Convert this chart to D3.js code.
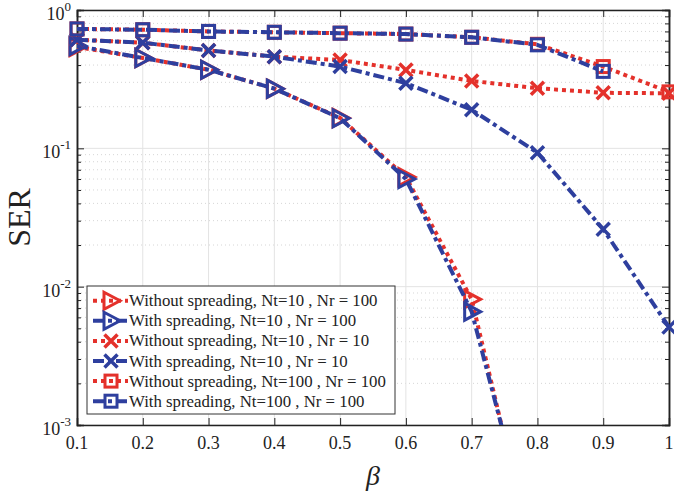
<!DOCTYPE html>
<html>
<head>
<meta charset="utf-8">
<script src="https://cdn.jsdelivr.net/npm/d3@7/dist/d3.min.js"></script>
<style>
  body { margin: 0; background: #fff; }
  svg { display: block; font-family: "Liberation Serif", "DejaVu Serif", serif; }
</style>
</head>
<body>
<script>
var width = 674, height = 495;
var margin = {top: 10, right: 5, bottom: 70, left: 77};

// beta values on the x axis
var beta = [0.1, 0.2, 0.3, 0.4, 0.5, 0.6, 0.7, 0.8, 0.9, 1.0];
var xTicks = [0.1, 0.2, 0.3, 0.4, 0.5, 0.6, 0.7, 0.8, 0.9, 1];
var yTicks = [1e-3, 1e-2, 1e-1, 1];
var yTickExp = ["-3", "-2", "-1", "0"];

// SER values per curve (last triangle points fall below 1e-3)
var woNt10Nr100 = [0.54, 0.45, 0.37, 0.27, 0.166, 0.062, 0.0081, 0.00008];
var wNt10Nr100  = [0.55, 0.45, 0.37, 0.27, 0.165, 0.060, 0.0066, 0.0001];
var woNt10Nr10  = [0.61, 0.58, 0.51, 0.46, 0.435, 0.369, 0.307, 0.272, 0.252, 0.25];
var wNt10Nr10   = [0.61, 0.58, 0.51, 0.46, 0.39, 0.296, 0.19, 0.093, 0.026, 0.0051];
var woNt100Nr100 = [0.73, 0.72, 0.70, 0.69, 0.68, 0.67, 0.635, 0.565, 0.39, 0.256];
var wNt100Nr100  = [0.73, 0.72, 0.70, 0.69, 0.68, 0.67, 0.635, 0.56, 0.36];

var labels = [
  "Without spreading, Nt=10 , Nr = 100",
  "With spreading, Nt=10 , Nr = 100",
  "Without spreading, Nt=10 , Nr = 10",
  "With spreading, Nt=10 , Nr = 10",
  "Without spreading, Nt=100 , Nr = 100",
  "With spreading, Nt=100 , Nr = 100"
];

var red = "#e4312b", blue = "#2e3f9e";
var series = [
  {name: labels[0], values: woNt10Nr100, color: red, dash: "4,4", marker: "tri"},
  {name: labels[1], values: wNt10Nr100, color: blue, dash: "11,4,4,4", marker: "tri"},
  {name: labels[2], values: woNt10Nr10, color: red, dash: "4,4", marker: "x"},
  {name: labels[3], values: wNt10Nr10, color: blue, dash: "11,4,4,4", marker: "x"},
  {name: labels[4], values: woNt100Nr100, color: red, dash: "4,4", marker: "sq"},
  {name: labels[5], values: wNt100Nr100, color: blue, dash: "11,4,4,4", marker: "sq"}
];

var svg = d3.select("body").append("svg")
  .attr("width", width)
  .attr("height", height);

var x = d3.scaleLinear().domain([0.1, 1]).range([margin.left, width - margin.right]);
var y = d3.scaleLog().domain([1e-3, 1]).range([height - margin.bottom, margin.top]);

var x0 = x.range()[0], x1 = x.range()[1], y0 = y.range()[0], y1 = y.range()[1];

svg.append("defs").append("clipPath").attr("id", "plotclip")
  .append("rect").attr("x", x0).attr("y", y1).attr("width", x1 - x0).attr("height", y0 - y1);

// minor log values
var minor = [];
[1e-3, 1e-2, 1e-1].forEach(function(d) {
  for (var k = 2; k <= 9; k++) minor.push(d * k);
});

var grid = svg.append("g");
grid.selectAll(".ymin").data(minor).enter().append("line")
  .attr("x1", x0).attr("x2", x1)
  .attr("y1", function(d) { return y(d); }).attr("y2", function(d) { return y(d); })
  .attr("stroke", "#d6d6d6").attr("stroke-width", 1).attr("stroke-dasharray", "1,3");
grid.selectAll(".ymaj").data(yTicks).enter().append("line")
  .attr("x1", x0).attr("x2", x1)
  .attr("y1", function(d) { return y(d); }).attr("y2", function(d) { return y(d); })
  .attr("stroke", "#e3e3e3").attr("stroke-width", 1);
grid.selectAll(".xmaj").data(xTicks).enter().append("line")
  .attr("y1", y0).attr("y2", y1)
  .attr("x1", function(d) { return x(d); }).attr("x2", function(d) { return x(d); })
  .attr("stroke", "#e3e3e3").attr("stroke-width", 1);

// axes (inward ticks on all four sides)
svg.append("g").attr("transform", "translate(0," + y0 + ")")
  .call(d3.axisBottom(x).tickValues(xTicks).tickSize(-7).tickFormat(""));
svg.append("g").attr("transform", "translate(0," + y1 + ")")
  .call(d3.axisTop(x).tickValues(xTicks).tickSize(-7).tickFormat(""));
svg.append("g").attr("transform", "translate(" + x0 + ",0)")
  .call(d3.axisLeft(y).tickValues(yTicks).tickSize(-7).tickFormat(""));
svg.append("g").attr("transform", "translate(" + x1 + ",0)")
  .call(d3.axisRight(y).tickValues(yTicks).tickSize(-7).tickFormat(""));
svg.append("g").attr("transform", "translate(" + x0 + ",0)")
  .call(d3.axisLeft(y).tickValues(minor).tickSize(-4).tickFormat(""));
svg.append("g").attr("transform", "translate(" + x1 + ",0)")
  .call(d3.axisRight(y).tickValues(minor).tickSize(-4).tickFormat(""));
svg.selectAll(".domain").attr("stroke", "#222").attr("stroke-width", 1.5);
svg.selectAll(".tick line").attr("stroke", "#222").attr("stroke-width", 1);

// tick labels
svg.append("g").selectAll("text").data(xTicks).enter().append("text")
  .attr("x", function(d) { return x(d); })
  .attr("y", y0 + 24)
  .attr("text-anchor", "middle")
  .attr("font-size", 18)
  .attr("fill", "#222")
  .text(function(d) { return d === 1 ? "1" : d3.format(".1f")(d); });

var yl = svg.append("g").selectAll("text").data(yTicks).enter().append("text")
  .attr("x", x0 - 6)
  .attr("y", function(d) { return y(d) + 10; })
  .attr("text-anchor", "end")
  .attr("fill", "#222")
  .attr("font-size", 18);
yl.append("tspan").text("10");
yl.append("tspan").attr("font-size", 13).attr("dy", -9)
  .text(function(d, i) { return yTickExp[i]; });

svg.append("text")
  .attr("x", (x0 + x1) / 2)
  .attr("y", 485)
  .attr("text-anchor", "middle")
  .attr("font-size", 28)
  .attr("font-style", "italic")
  .attr("fill", "#222")
  .text("β");

svg.append("text")
  .attr("transform", "translate(30," + ((y0 + y1) / 2) + ") rotate(-90)")
  .attr("text-anchor", "middle")
  .attr("font-size", 32)
  .attr("fill", "#222")
  .text("SER");

function drawMarker(g, type, color) {
  if (type === "tri") {
    g.append("path").attr("d", "M-7,-8.5L9,0L-7,8.5Z")
      .attr("fill", "none").attr("stroke", color).attr("stroke-width", 3).attr("stroke-linejoin", "miter");
  } else if (type === "sq") {
    g.append("rect").attr("x", -6).attr("y", -6).attr("width", 12).attr("height", 12)
      .attr("fill", "none").attr("stroke", color).attr("stroke-width", 3);
  } else {
    g.append("path").attr("d", "M-6.5,-6.5L6.5,6.5M-6.5,6.5L6.5,-6.5")
      .attr("fill", "none").attr("stroke", color).attr("stroke-width", 3.5);
  }
}

var line = d3.line()
  .x(function(d, i) { return x(beta[i]); })
  .y(function(d) { return y(d); });

var plot = svg.append("g");

series.forEach(function(s) {
  plot.append("path")
    .datum(s.values)
    .attr("clip-path", "url(#plotclip)")
    .attr("d", line)
    .attr("fill", "none")
    .attr("stroke", s.color)
    .attr("stroke-width", 4)
    .attr("stroke-dasharray", s.dash);
  s.values.forEach(function(v, i) {
    if (v < 1e-3) return;
    var g = plot.append("g").attr("transform", "translate(" + x(beta[i]) + "," + y(v) + ")");
    drawMarker(g, s.marker, s.color);
  });
});

// legend
var lg = svg.append("g").attr("transform", "translate(87,286)");
lg.append("rect").attr("width", 308).attr("height", 128)
  .attr("fill", "#fff").attr("stroke", "#333").attr("stroke-width", 1);
series.forEach(function(s, i) {
  var row = lg.append("g").attr("transform", "translate(0," + (14.7 + i * 20.1) + ")");
  row.append("line").attr("x1", 6).attr("x2", 41).attr("y1", 0).attr("y2", 0)
    .attr("stroke", s.color).attr("stroke-width", 4).attr("stroke-dasharray", s.dash);
  var m = row.append("g").attr("transform", "translate(24,0)");
  drawMarker(m, s.marker, s.color);
  row.append("text").attr("x", 42).attr("y", 5.5)
    .attr("font-size", 16.8).attr("fill", "#222")
    .text(s.name);
});
</script>
</body>
</html>
